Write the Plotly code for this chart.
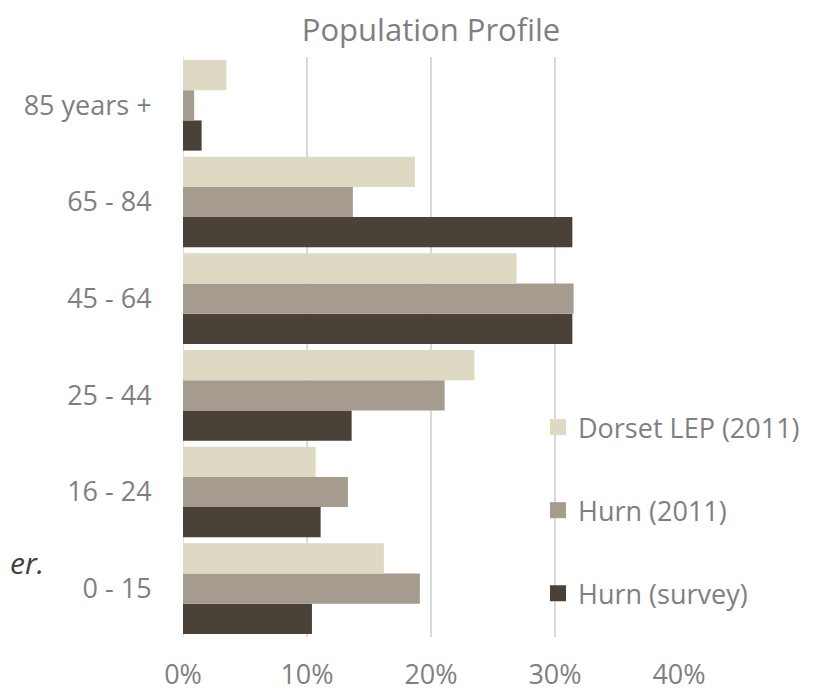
import plotly.graph_objects as go

categories = ["0 - 15", "16 - 24", "25 - 44", "45 - 64", "65 - 84", "85 years +"]
dorset_lep_2011 = [0.162, 0.107, 0.235, 0.269, 0.187, 0.035]
hurn_2011 = [0.191, 0.133, 0.211, 0.315, 0.137, 0.009]
hurn_survey = [0.104, 0.111, 0.136, 0.314, 0.314, 0.015]
x_ticks = [0, 0.1, 0.2, 0.3, 0.4]
x_tick_labels = ["0%", "10%", "20%", "30%", "40%"]

FONT = "Open Sans"
TXT = "#7F7F7F"

# page has an 8px body margin: figure is drawn 8px in from the window edge
W, H = 816, 684
L, R, T, B = 175, 145, 49, 55
PW, PH = W - L - R, H - T - B

fig = go.Figure()
series = [
    ("Hurn (survey)", hurn_survey, "#4A4139", 3),
    ("Hurn (2011)", hurn_2011, "#A59B8E", 2),
    ("Dorset LEP (2011)", dorset_lep_2011, "#DDD9C3", 1),
]
for name, vals, col, rank in series:
    fig.add_trace(go.Bar(
        y=categories, x=vals, name=name, orientation="h",
        marker=dict(color=col, line=dict(width=0)),
        showlegend=False,
    ))
# legend entries with larger square swatches
for name, vals, col, rank in series:
    fig.add_trace(go.Scatter(
        x=[None], y=[None], mode="markers", name=name,
        marker=dict(symbol="square", size=16, color=col),
        legendgroup=name, legendrank=rank, showlegend=True,
    ))

fig.update_layout(
    width=W, height=H,
    margin=dict(l=L, r=R, t=T, b=B, autoexpand=False),
    paper_bgcolor="white", plot_bgcolor="white",
    barmode="group", bargap=0.0625, bargroupgap=0,
    font=dict(family=FONT, color=TXT),
    title=dict(text="Population Profile", x=0.5, xref="paper", xanchor="center",
               y=1 - 22 / H, yref="container", yanchor="middle",
               font=dict(size=31, color=TXT, family=FONT), automargin=False),
    xaxis=dict(range=[0, 0.4], tickvals=x_ticks, ticktext=x_tick_labels,
               showgrid=True, gridcolor="#D9D9D9", gridwidth=1.5,
               zeroline=False, showline=False, automargin=False,
               ticks="outside", ticklen=14, tickcolor="rgba(0,0,0,0)",
               tickfont=dict(size=27, color=TXT, family=FONT), fixedrange=True),
    yaxis=dict(type="category", categoryorder="array", categoryarray=categories,
               showgrid=False, zeroline=False, automargin=False,
               showline=False,
               ticks="outside", ticklen=25, tickcolor="rgba(0,0,0,0)",
               tickfont=dict(size=27, color=TXT, family=FONT)),
    legend=dict(x=(530 - L) / PW, xref="paper", xanchor="left",
                y=(T + PH - 395) / PH, yanchor="top",
                traceorder="grouped", tracegroupgap=45, itemsizing="trace",
                font=dict(size=27, color=TXT, family=FONT),
                bgcolor="rgba(0,0,0,0)"),
    showlegend=True,
)

# left axis line (light gray) at 0
fig.add_shape(type="line", xref="x", yref="paper", x0=0, x1=0, y0=0, y1=1,
              line=dict(color="#D9D9D9", width=1.5), layer="below")

# fragment of surrounding text on the left edge
fig.add_annotation(text="<i>er.</i>", xref="paper", yref="paper",
                   x=-(L - 0) / PW, xanchor="left",
                   y=(T + PH - 554) / PH, yanchor="middle",
                   showarrow=False, font=dict(size=30, color="#404040", family=FONT))

fig.write_html("out.html")
